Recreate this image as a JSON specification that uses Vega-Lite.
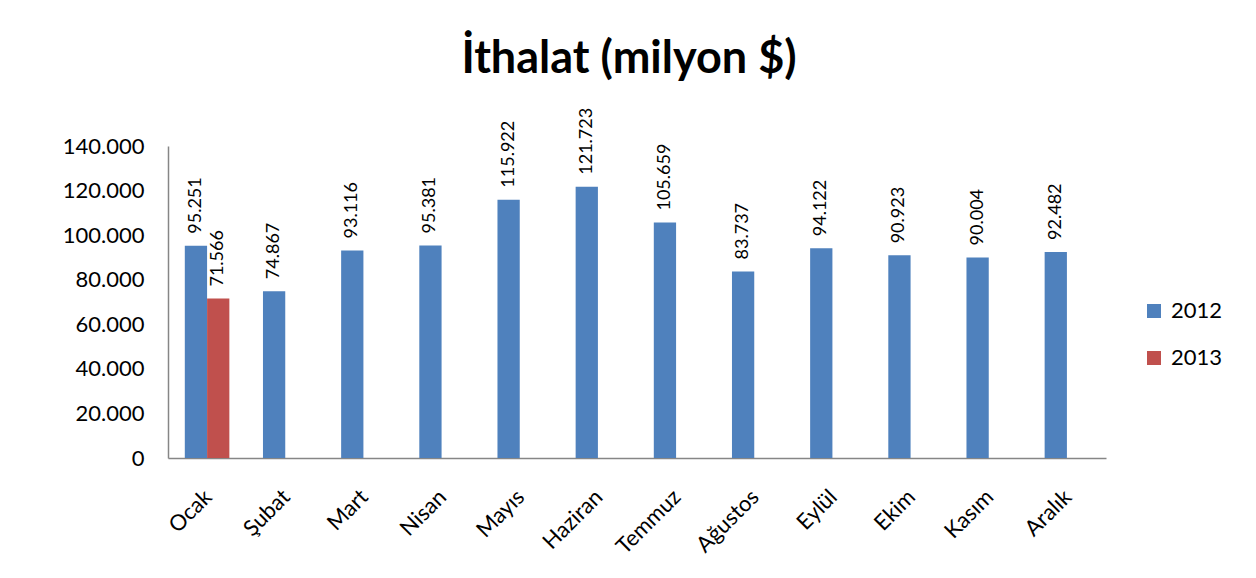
{
  "$schema": "https://vega.github.io/schema/vega-lite/v6.json",
  "width": 938,
  "height": 312,
  "autosize": {"type": "none"},
  "padding": {"left": 168, "top": 146, "right": 150, "bottom": 120},
  "background": "white",
  "config": {
    "locale": {"number": {"decimal": ",", "thousands": ".", "grouping": [3], "currency": ["", " ₺"]}},
    "view": {"stroke": null},
    "font": "Lato"
  },
  "title": {
    "text": "İthalat (milyon $)",
    "font": "Lato",
    "fontSize": 45,
    "fontWeight": "bold",
    "color": "#000000",
    "anchor": "middle",
    "frame": "group",
    "dx": -8,
    "offset": 26
  },
  "data": {
    "values": [
      {"ay": "Ocak", "yil": "2012", "deger": 95251},
      {"ay": "Ocak", "yil": "2013", "deger": 71566},
      {"ay": "Şubat", "yil": "2012", "deger": 74867},
      {"ay": "Mart", "yil": "2012", "deger": 93116},
      {"ay": "Nisan", "yil": "2012", "deger": 95381},
      {"ay": "Mayıs", "yil": "2012", "deger": 115922},
      {"ay": "Haziran", "yil": "2012", "deger": 121723},
      {"ay": "Temmuz", "yil": "2012", "deger": 105659},
      {"ay": "Ağustos", "yil": "2012", "deger": 83737},
      {"ay": "Eylül", "yil": "2012", "deger": 94122},
      {"ay": "Ekim", "yil": "2012", "deger": 90923},
      {"ay": "Kasım", "yil": "2012", "deger": 90004},
      {"ay": "Aralık", "yil": "2012", "deger": 92482}
    ]
  },
  "encoding": {
    "x": {
      "field": "ay",
      "type": "nominal",
      "sort": ["Ocak", "Şubat", "Mart", "Nisan", "Mayıs", "Haziran", "Temmuz", "Ağustos", "Eylül", "Ekim", "Kasım", "Aralık"],
      "scale": {"paddingInner": 0.43, "paddingOuter": 0.215},
      "axis": {
        "title": null,
        "labelAngle": -45,
        "labelFont": "Lato",
        "labelFontSize": 22,
        "labelColor": "#000000",
        "ticks": false,
        "labelPadding": 28,
        "labelOffset": -6,
        "domainColor": "#868686",
        "domainWidth": 1.5,
        "grid": false
      }
    },
    "xOffset": {"field": "yil", "type": "nominal", "scale": {"domain": ["2012", "2013"]}},
    "y": {
      "field": "deger",
      "type": "quantitative",
      "scale": {"domain": [0, 140000]},
      "axis": {
        "title": null,
        "values": [0, 20000, 40000, 60000, 80000, 100000, 120000, 140000],
        "format": ",d",
        "labelFont": "Lato",
        "labelFontSize": 22,
        "labelColor": "#000000",
        "ticks": false,
        "labelPadding": 24,
        "domainColor": "#868686",
        "domainWidth": 1.5,
        "grid": false
      }
    }
  },
  "layer": [
    {
      "mark": {"type": "bar"},
      "encoding": {
        "color": {
          "field": "yil",
          "type": "nominal",
          "scale": {"domain": ["2012", "2013"], "range": ["#4F81BD", "#C0504D"]},
          "legend": {
            "title": null,
            "orient": "none",
            "legendX": 975,
            "legendY": 154,
            "symbolType": "square",
            "symbolSize": 196,
            "symbolStrokeWidth": 0,
            "labelFont": "Lato",
            "labelFontSize": 22,
            "labelColor": "#000000",
            "rowPadding": 25,
            "labelOffset": 6
          }
        }
      }
    },
    {
      "mark": {"type": "text", "angle": 270, "align": "left", "baseline": "middle", "dx": 12, "font": "Lato", "fontSize": 18, "color": "#000000"},
      "encoding": {
        "text": {"field": "deger", "type": "quantitative", "format": ",d"}
      }
    }
  ]
}
